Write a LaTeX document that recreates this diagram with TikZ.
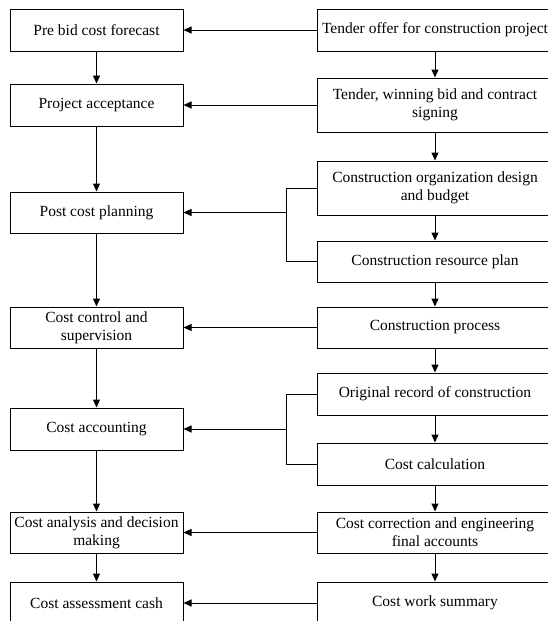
\documentclass[tikz,border=0pt]{standalone}
\usepackage{fontspec}
\setmainfont{Liberation Serif}
\usetikzlibrary{arrows.meta}
\begin{document}
\begin{tikzpicture}[x=1pt,y=-1pt,
  box/.style={draw,line width=1pt,inner sep=0pt,align=center,
    font=\fontsize{15.5}{18}\selectfont},
  lbox/.style={box,minimum width=173pt},
  rbox/.style={box,minimum width=236pt},
  arr/.style={line width=1pt,-{Triangle[length=8pt,width=7pt]}},
  ln/.style={line width=1pt}]
\useasboundingbox (0,0) rectangle (548,621);
\clip (0,0) rectangle (548,621);
% left column
\node[lbox,minimum height=42pt] (L1) at (96.5,30) {Pre bid cost forecast};
\node[lbox,minimum height=42pt] (L2) at (96.5,105) {Project acceptance};
\node[lbox,minimum height=41pt] (L3) at (96.5,212.5) {Post cost planning};
\node[lbox,minimum height=41pt] (L4) at (96.5,327.5) {Cost control and\\supervision};
\node[lbox,minimum height=42pt] (L5) at (96.5,429) {Cost accounting};
\node[lbox,minimum height=41pt] (L6) at (96.5,532.5) {Cost analysis and decision\\making};
\node[lbox,minimum height=42pt] (L7) at (96.5,603) {Cost assessment cash};
% right column
\node[rbox,minimum height=42pt] (R1) at (435,30) {Tender offer for construction project};
\node[rbox,minimum height=54pt] (R2) at (435,105) {Tender, winning bid and contract\\signing};
\node[rbox,minimum height=54pt] (R3) at (435,188) {Construction organization design\\and budget};
\node[rbox,minimum height=41pt] (R4) at (435,261.5) {Construction resource plan};
\node[rbox,minimum height=41pt] (R5) at (435,327.5) {Construction process};
\node[rbox,minimum height=42pt] (R6) at (435,394) {Original record of construction};
\node[rbox,minimum height=42pt] (R7) at (435,464) {Cost calculation};
\node[rbox,minimum height=41pt] (R8) at (435,532.5) {Cost correction and engineering\\final accounts};
\node[rbox,minimum height=42pt] (R9) at (435,603) {Cost work summary};
% vertical arrows
\foreach \a/\b in {L1/L2,L2/L3,L3/L4,L4/L5,L5/L6,L6/L7,R1/R2,R2/R3,R3/R4,R4/R5,R5/R6,R6/R7,R7/R8,R8/R9}
  \draw[arr] (\a.south) -- (\b.north);
% horizontal arrows
\draw[arr] (R1.west) -- (L1.east);
\draw[arr] (R2.west) -- (L2.east);
\draw[arr] (R5.west) -- (L4.east);
\draw[arr] (R8.west) -- (L6.east);
\draw[arr] (R9.west) -- (L7.east);
% brackets
\coordinate (B1) at (286.3,188);
\coordinate (B2) at (286.3,394);
\draw[ln] (R3.west) -- (B1) -- (B1 |- R4.west) -- (R4.west);
\draw[arr] (B1 |- L3.east) -- (L3.east);
\draw[ln] (R6.west) -- (B2) -- (B2 |- R7.west) -- (R7.west);
\draw[arr] (B2 |- L5.east) -- (L5.east);
\end{tikzpicture}
\end{document}
